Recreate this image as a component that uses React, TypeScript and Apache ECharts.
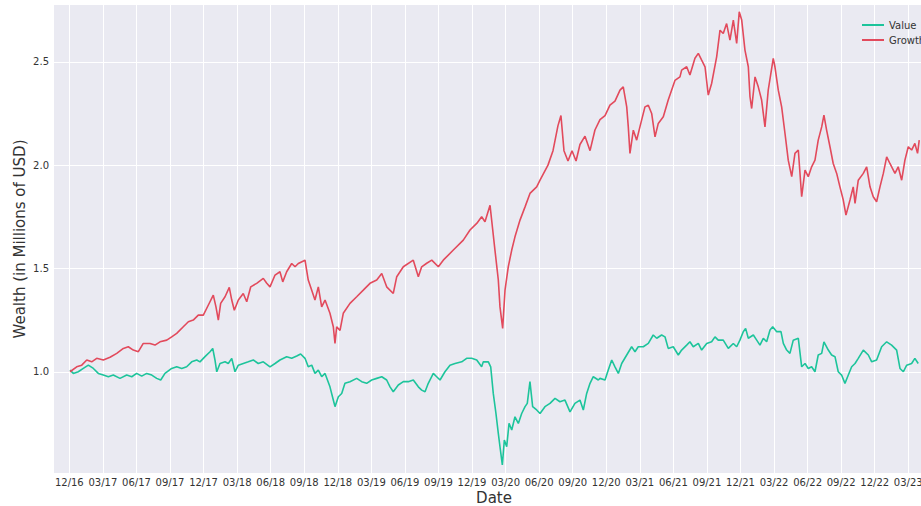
import React, { useEffect, useRef } from "react";
import * as echarts from "echarts";

// x positions are months elapsed since Dec 2016 (tick "12/16" = 0)
const xTickMonths = [0, 3, 6, 9, 12, 15, 18, 21, 24, 27, 30, 33, 36, 39, 42, 45, 48, 51, 54, 57, 60, 63, 66, 69, 72, 75];
const xTickLabels = ["12/16", "03/17", "06/17", "09/17", "12/17", "03/18", "06/18", "09/18", "12/18", "03/19", "06/19", "09/19", "12/19", "03/20", "06/20", "09/20", "12/20", "03/21", "06/21", "09/21", "12/21", "03/22", "06/22", "09/22", "12/22", "03/23"];
const yTicks = [1.0, 1.5, 2.0, 2.5];

const valueMonths = [
  0.06, 0.36, 0.8, 1.25, 1.7, 2.15, 2.59, 3.04, 3.49, 3.93, 4.53, 5.13, 5.58, 6.02, 6.47, 6.92, 7.37, 7.81, 8.17, 8.55,
  9.15, 9.6, 10.05, 10.49, 10.94, 11.39, 11.68, 12.13, 12.58, 12.82, 13.02, 13.18, 13.47, 13.92, 14.21, 14.52, 14.81, 15.11, 15.55, 16.0,
  16.45, 16.89, 17.34, 17.94, 18.39, 18.83, 19.43, 19.88, 20.33, 20.68, 21.07, 21.36, 21.67, 21.96, 22.26, 22.56, 22.86, 23.3, 23.6, 23.75,
  24.05, 24.35, 24.64, 25.09, 25.69, 26.14, 26.58, 27.03, 27.48, 27.93, 28.37, 28.67, 28.96, 29.41, 29.86, 30.3, 30.75, 31.2, 31.5, 31.8,
  32.09, 32.54, 32.84, 33.14, 33.58, 34.03, 34.48, 35.08, 35.52, 35.97, 36.42, 36.86, 37.01, 37.46, 37.67, 37.9, 38.14, 38.35, 38.5, 38.71,
  38.89, 39.1, 39.31, 39.55, 39.84, 40.14, 40.44, 40.74, 40.94, 41.18, 41.42, 41.78, 42.08, 42.52, 42.97, 43.42, 43.86, 44.31, 44.76, 45.2,
  45.65, 45.95, 46.25, 46.55, 46.84, 47.29, 47.44, 47.89, 48.18, 48.49, 48.78, 49.08, 49.38, 49.83, 50.27, 50.57, 50.86, 51.31, 51.76, 52.2,
  52.51, 52.95, 53.25, 53.54, 53.99, 54.44, 54.74, 55.19, 55.48, 55.78, 56.23, 56.53, 56.98, 57.42, 57.72, 58.01, 58.46, 58.91, 59.36, 59.66,
  59.95, 60.25, 60.46, 60.7, 61.15, 61.45, 61.74, 62.04, 62.34, 62.64, 62.88, 63.24, 63.62, 63.83, 64.13, 64.42, 64.72, 65.17, 65.47, 65.77,
  66.06, 66.36, 66.66, 66.95, 67.26, 67.46, 67.85, 68.15, 68.45, 68.74, 69.04, 69.34, 69.64, 69.94, 70.24, 70.53, 70.98, 71.43, 71.73, 72.17,
  72.62, 73.07, 73.51, 73.96, 74.26, 74.56, 74.86, 75.3, 75.59, 75.89
];
const valueWealth = [
  1.008, 0.992, 1.0, 1.016, 1.032, 1.016, 0.992, 0.984, 0.976, 0.984, 0.968, 0.984, 0.976, 0.992, 0.979, 0.992, 0.984, 0.968, 0.96, 0.992,
  1.016, 1.024, 1.016, 1.024, 1.048, 1.057, 1.048, 1.073, 1.097, 1.113, 1.057, 1.0, 1.04, 1.048, 1.04, 1.065, 1.0, 1.032, 1.04, 1.048,
  1.057, 1.04, 1.048, 1.024, 1.04, 1.057, 1.073, 1.065, 1.076, 1.086, 1.065, 1.024, 1.032, 0.992, 1.008, 0.976, 0.992, 0.927, 0.863, 0.831,
  0.879, 0.895, 0.944, 0.952, 0.968, 0.952, 0.944, 0.96, 0.968, 0.976, 0.96, 0.927, 0.903, 0.936, 0.952, 0.952, 0.96, 0.927, 0.911, 0.903,
  0.944, 0.992, 0.976, 0.96, 1.0, 1.032, 1.04, 1.048, 1.065, 1.065, 1.057, 1.024, 1.048, 1.048, 1.024, 0.895, 0.798, 0.702, 0.637, 0.549,
  0.67, 0.637, 0.75, 0.718, 0.782, 0.75, 0.798, 0.831, 0.847, 0.952, 0.831, 0.815, 0.798, 0.831, 0.847, 0.871, 0.855, 0.863, 0.806, 0.847,
  0.863, 0.815, 0.895, 0.944, 0.976, 0.96, 0.968, 0.96, 1.008, 1.057, 1.024, 0.992, 1.04, 1.081, 1.121, 1.097, 1.121, 1.121, 1.137, 1.178,
  1.162, 1.178, 1.169, 1.113, 1.121, 1.081, 1.105, 1.129, 1.145, 1.121, 1.137, 1.105, 1.137, 1.145, 1.169, 1.153, 1.153, 1.113, 1.137, 1.121,
  1.153, 1.194, 1.21, 1.162, 1.178, 1.153, 1.129, 1.162, 1.145, 1.202, 1.218, 1.194, 1.194, 1.137, 1.105, 1.089, 1.153, 1.162, 1.024, 1.04,
  1.016, 1.024, 1.0, 1.081, 1.089, 1.145, 1.105, 1.081, 1.073, 1.0, 0.984, 0.944, 0.984, 1.024, 1.04, 1.065, 1.105, 1.081, 1.048, 1.057,
  1.121, 1.145, 1.129, 1.105, 1.016, 1.0, 1.032, 1.04, 1.065, 1.04
];

const growthMonths = [
  0.06, 0.66, 1.11, 1.56, 2.0, 2.45, 3.04, 3.64, 4.24, 4.83, 5.27, 5.72, 6.17, 6.61, 7.21, 7.66, 8.11, 8.71, 9.15, 9.6,
  10.19, 10.64, 11.08, 11.53, 11.98, 12.43, 12.87, 13.11, 13.32, 13.53, 13.92, 14.3, 14.52, 14.75, 15.11, 15.55, 15.86, 16.22, 16.75, 17.34,
  17.65, 17.94, 18.39, 18.83, 19.08, 19.43, 19.88, 20.18, 20.47, 21.07, 21.36, 21.67, 21.96, 22.26, 22.56, 22.86, 23.3, 23.6, 23.75, 23.9,
  24.2, 24.49, 25.09, 25.69, 26.28, 26.88, 27.48, 27.93, 28.37, 28.96, 29.27, 29.86, 30.75, 31.2, 31.5, 31.95, 32.4, 32.99, 33.43, 34.33,
  35.22, 35.82, 36.42, 36.86, 37.16, 37.61, 38.05, 38.35, 38.5, 38.74, 38.95, 39.24, 39.55, 39.84, 40.29, 40.74, 41.18, 41.78, 42.08, 42.79,
  43.24, 43.68, 43.95, 44.22, 44.58, 44.94, 45.3, 45.65, 46.1, 46.55, 46.99, 47.44, 47.89, 48.33, 48.78, 49.23, 49.52, 49.83, 49.97, 50.12,
  50.42, 50.72, 51.01, 51.46, 51.76, 52.06, 52.36, 52.65, 53.1, 53.54, 54.14, 54.59, 54.74, 55.19, 55.48, 55.93, 56.23, 56.53, 56.83, 57.12,
  57.42, 57.87, 58.17, 58.46, 58.76, 59.06, 59.36, 59.66, 59.89, 60.11, 60.4, 60.7, 60.85, 61.0, 61.3, 61.59, 61.89, 62.19, 62.48, 62.93,
  63.08, 63.38, 63.68, 63.98, 64.27, 64.58, 64.87, 65.17, 65.47, 65.77, 66.06, 66.36, 66.66, 66.95, 67.26, 67.46, 67.7, 68.0, 68.29, 68.6,
  68.89, 69.19, 69.43, 69.79, 70.08, 70.24, 70.53, 70.98, 71.28, 71.58, 71.87, 72.17, 72.47, 72.77, 73.07, 73.36, 73.81, 74.1, 74.41, 74.7,
  75.0, 75.3, 75.59, 75.83, 75.98
];
const growthWealth = [
  1.0, 1.024, 1.032, 1.057, 1.048, 1.065, 1.057, 1.07, 1.089, 1.113, 1.121, 1.105, 1.097, 1.137, 1.137, 1.129, 1.145, 1.153, 1.169, 1.186,
  1.218, 1.242, 1.25, 1.274, 1.274, 1.323, 1.371, 1.314, 1.25, 1.331, 1.363, 1.408, 1.347, 1.298, 1.347, 1.379, 1.339, 1.411, 1.428, 1.452,
  1.428, 1.411, 1.468, 1.484, 1.435, 1.484, 1.524, 1.508, 1.524, 1.54, 1.444, 1.395, 1.347, 1.411, 1.314, 1.347, 1.283, 1.218, 1.137, 1.218,
  1.2, 1.283, 1.331, 1.363, 1.395, 1.428, 1.444, 1.476, 1.411, 1.379, 1.46, 1.508, 1.54, 1.46, 1.508, 1.525, 1.54, 1.508, 1.54, 1.589,
  1.637, 1.686, 1.718, 1.75, 1.726, 1.806, 1.589, 1.444, 1.314, 1.21, 1.395, 1.508, 1.589, 1.653, 1.734, 1.798, 1.863, 1.895, 1.927, 2.0,
  2.07, 2.19, 2.24, 2.07, 2.02, 2.07, 2.02, 2.1, 2.14, 2.07, 2.17, 2.22, 2.24, 2.29, 2.31, 2.363, 2.379, 2.282, 2.185, 2.057,
  2.169, 2.121, 2.185, 2.282, 2.29, 2.25, 2.137, 2.202, 2.234, 2.315, 2.41, 2.427, 2.46, 2.476, 2.436, 2.517, 2.541, 2.508, 2.476, 2.339,
  2.395, 2.524, 2.653, 2.637, 2.685, 2.605, 2.702, 2.589, 2.742, 2.702, 2.557, 2.476, 2.331, 2.274, 2.427, 2.379, 2.315, 2.185, 2.363, 2.517,
  2.476, 2.363, 2.282, 2.153, 2.024, 1.944, 2.057, 2.073, 1.847, 1.976, 1.944, 1.992, 2.024, 2.121, 2.185, 2.242, 2.169, 2.089, 2.008, 1.96,
  1.895, 1.831, 1.758, 1.831, 1.895, 1.815, 1.927, 1.96, 1.992, 1.895, 1.847, 1.823, 1.895, 1.96, 2.04, 2.008, 1.96, 1.992, 1.927, 2.024,
  2.089, 2.073, 2.105, 2.057, 2.121
];

const FONT = "DejaVu Sans";

export default function App() {
  const ref = useRef<HTMLDivElement>(null);
  useEffect(() => {
    if (!ref.current) return;
    const chart = echarts.init(ref.current, undefined, { renderer: "svg" });
    const valueData = valueMonths.map((m, i) => [m, valueWealth[i]]);
    const growthData = growthMonths.map((m, i) => [m, growthWealth[i]]);
    chart.setOption({
      animation: false,
      backgroundColor: "#ffffff",
      textStyle: { fontFamily: FONT },
      grid: {
        left: 54,
        top: 5,
        right: -13,
        bottom: 33,
        containLabel: false,
        outerBoundsMode: "none",
        show: true,
        backgroundColor: "#eaeaf2",
        borderWidth: 0,
      },
      legend: {
        left: 857,
        top: 14,
        orient: "vertical",
        itemWidth: 22,
        itemHeight: 2,
        itemGap: 3,
        icon: "rect",
        textStyle: { fontFamily: FONT, fontSize: 10, color: "#333", lineHeight: 12 },
        data: ["Value", "Growth"],
      },
      xAxis: {
        type: "value",
        min: -1.37,
        max: 77.3,
        name: "Date",
        nameLocation: "middle",
        nameGap: 17,
        nameMoveOverlap: false,
        nameTextStyle: { fontFamily: FONT, fontSize: 15, color: "#333" },
        axisLine: { show: false },
        axisTick: { show: false, customValues: xTickMonths },
        axisLabel: {
          customValues: xTickMonths,
          fontFamily: FONT,
          fontSize: 10,
          color: "#333",
          margin: 4,
          formatter: (v: number) => {
            const idx = xTickMonths.indexOf(Math.round(v));
            return idx >= 0 ? xTickLabels[idx] : "";
          },
        },
        splitLine: { show: true, lineStyle: { color: "#ffffff", width: 1 } },
      },
      yAxis: {
        type: "value",
        min: 0.51,
        max: 2.775,
        name: "Wealth (in Millions of USD)",
        nameLocation: "middle",
        nameGap: 27,
        nameMoveOverlap: false,
        nameTextStyle: { fontFamily: FONT, fontSize: 15, color: "#333" },
        axisLine: { show: false },
        axisTick: { show: false, customValues: yTicks },
        axisLabel: {
          customValues: yTicks,
          fontFamily: FONT,
          fontSize: 10,
          color: "#333",
          margin: 5,
          formatter: (v: number) => v.toFixed(1),
        },
        splitLine: { show: true, lineStyle: { color: "#ffffff", width: 1 } },
      },
      series: [
        {
          name: "Value",
          type: "line",
          data: valueData,
          showSymbol: false,
          symbol: "none",
          color: "#1dc49b",
          lineStyle: { width: 1.6, color: "#1dc49b" },
        },
        {
          name: "Growth",
          type: "line",
          data: growthData,
          showSymbol: false,
          symbol: "none",
          color: "#e24a5c",
          lineStyle: { width: 1.6, color: "#e24a5c" },
        },
      ],
    });
    return () => chart.dispose();
  }, []);
  return (
    <div
      ref={ref}
      style={{ position: "absolute", left: 0, top: 0, width: 921, height: 506 }}
    />
  );
}
